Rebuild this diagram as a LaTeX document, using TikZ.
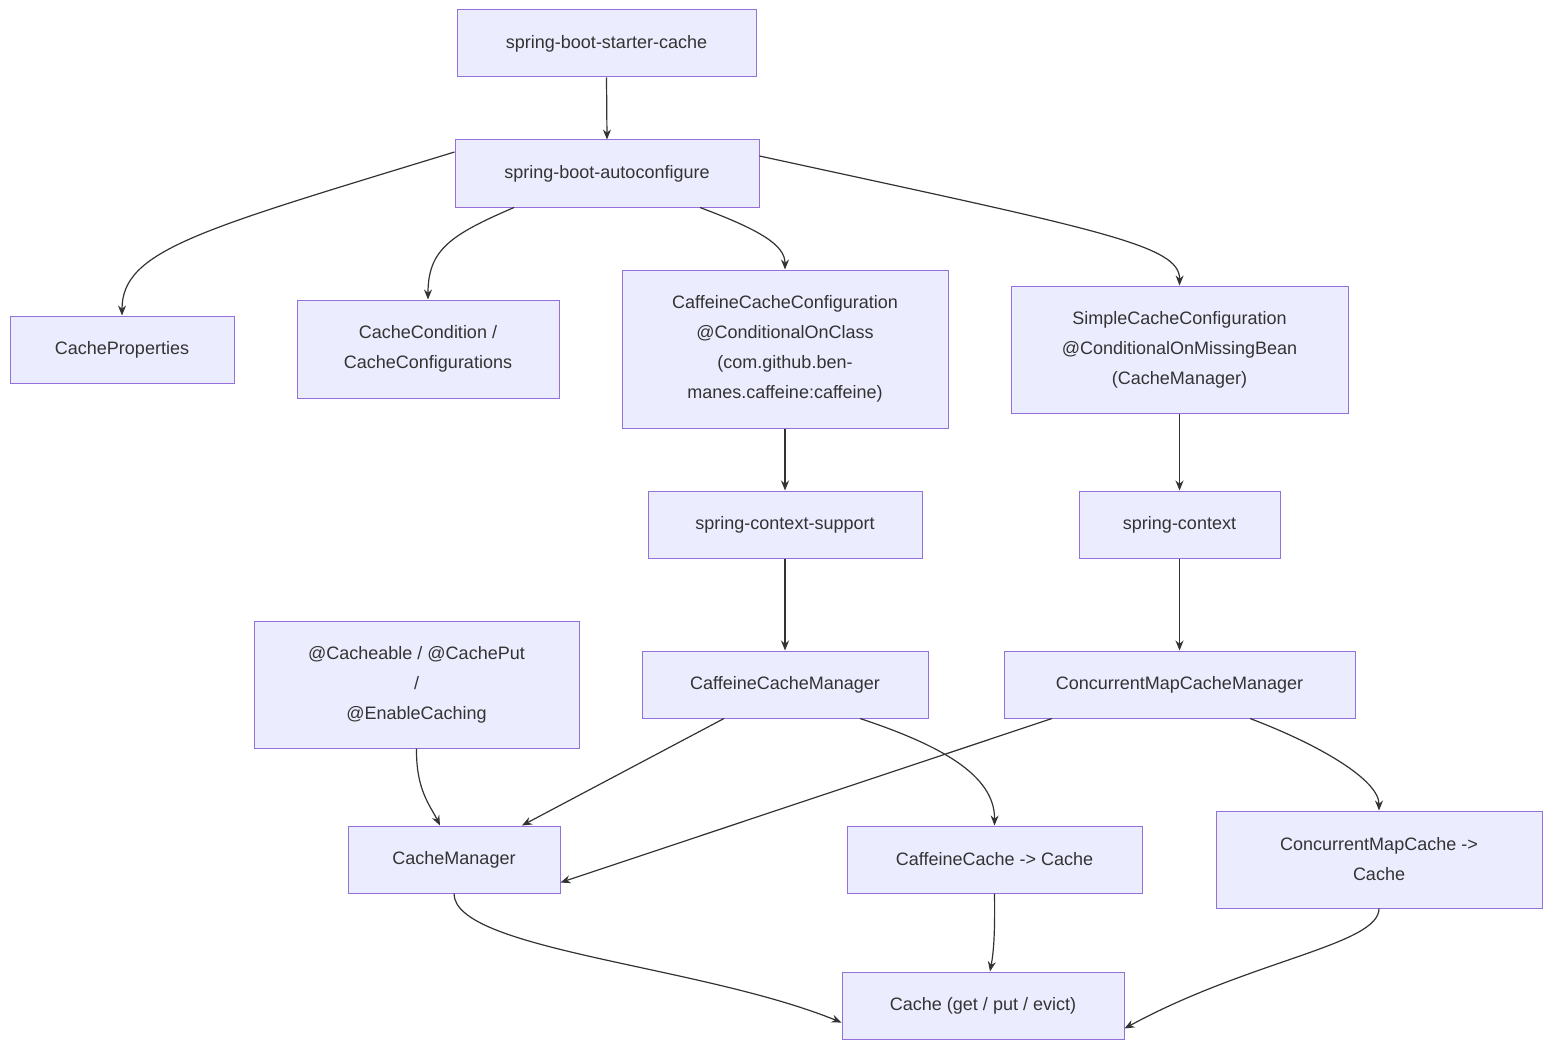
\documentclass[tikz,border=0pt]{standalone}
\usepackage{fontspec}
\setmainfont{Liberation Sans}
\usetikzlibrary{arrows.meta}
\definecolor{nfill}{HTML}{ECECFF}
\definecolor{nline}{HTML}{9370DB}
\definecolor{eline}{HTML}{333333}
\begin{document}
\begin{tikzpicture}[x=1pt,y=-1pt,
  box/.style={draw=nline,fill=nfill,line width=1pt,align=center,inner sep=0pt,
    font=\fontsize{18}{30}\selectfont,text=eline},
  arr/.style={draw=eline,line width=1.2pt,-{Stealth[length=10pt,width=8pt]}}]
\useasboundingbox[fill=white] (0,0) rectangle (1568,1062);
\node[box,minimum width=299,minimum height=67] (starter) at (606.5,43.5) {spring-boot-starter-cache};
\node[box,minimum width=304,minimum height=67] (auto) at (607,173.5) {spring-boot-autoconfigure};
\node[box,minimum width=224,minimum height=67] (props) at (122,349.5) {CacheProperties};
\node[box,minimum width=262,minimum height=98] (cond) at (428,349) {CacheCondition /\\CacheConfigurations};
\node[box,minimum width=326,minimum height=158] (caff) at (785,349) {CaffeineCacheConfiguration\\@ConditionalOnClass\\(com.github.ben-\\manes.caffeine:caffeine)};
\node[box,minimum width=337,minimum height=127] (simple) at (1179.5,349.5) {SimpleCacheConfiguration\\@ConditionalOnMissingBean\\(CacheManager)};
\node[box,minimum width=274,minimum height=67] (ctxsup) at (785,524.5) {spring-context-support};
\node[box,minimum width=201,minimum height=67] (ctx) at (1179.5,524.5) {spring-context};
\node[box,minimum width=325,minimum height=127] (annot) at (416.5,684.5) {@Cacheable / @CachePut\\/\\@EnableCaching};
\node[box,minimum width=286,minimum height=67] (caffmgr) at (785,684.5) {CaffeineCacheManager};
\node[box,minimum width=351,minimum height=67] (concmgr) at (1179.5,684.5) {ConcurrentMapCacheManager};
\node[box,minimum width=212,minimum height=67] (cm) at (454,859.5) {CacheManager};
\node[box,minimum width=295,minimum height=67] (caffcache) at (994.5,859.5) {CaffeineCache -> Cache};
\node[box,minimum width=326,minimum height=97] (conccache) at (1379,859.5) {ConcurrentMapCache ->\\Cache};
\node[box,minimum width=282,minimum height=67] (cache) at (983,1005.5) {Cache (get / put / evict)};

\draw[arr] (starter.south) -- (auto.north);
\draw[arr] ([yshift=21.5]auto.west) .. controls (200,230) and (122,250) .. (props.north);
\draw[arr] ([xshift=-93]auto.south) .. controls (450,235) and (428,250) .. (cond.north);
\draw[arr] ([xshift=93]auto.south) .. controls (760,230) and (785,245) .. (caff.north);
\draw[arr] ([yshift=17.5]auto.east) .. controls (1100,230) and (1180,245) .. (simple.north);
\draw[arr] (caff.south) -- (ctxsup.north);
\draw[arr] (simple.south) -- (ctx.north);
\draw[arr] (ctxsup.south) -- (caffmgr.north);
\draw[arr] (ctx.south) -- (concmgr.north);
\draw[arr] (annot.south) .. controls (416,790) and (430,805) .. ([xshift=-14]cm.north);
\draw[arr] ([xshift=-61]caffmgr.south) -- ([xshift=68]cm.north);
\draw[arr] ([xshift=75]caffmgr.south) .. controls (940,745) and (995,775) .. (caffcache.north);
\draw[arr] ([xshift=-127.5]concmgr.south) -- ([yshift=-23]cm.east);
\draw[arr] ([xshift=70.5]concmgr.south) .. controls (1320,745) and (1379,780) .. (conccache.north);
\draw[arr] (cm.south) .. controls (454,950) and (700,965) .. ([yshift=-17]cache.west);
\draw[arr] (caffcache.south) .. controls (995,930) and (994,950) .. ([xshift=7]cache.north);
\draw[arr] (conccache.south) .. controls (1379,945) and (1250,960) .. ([yshift=-23]cache.east);
\end{tikzpicture}
\end{document}
